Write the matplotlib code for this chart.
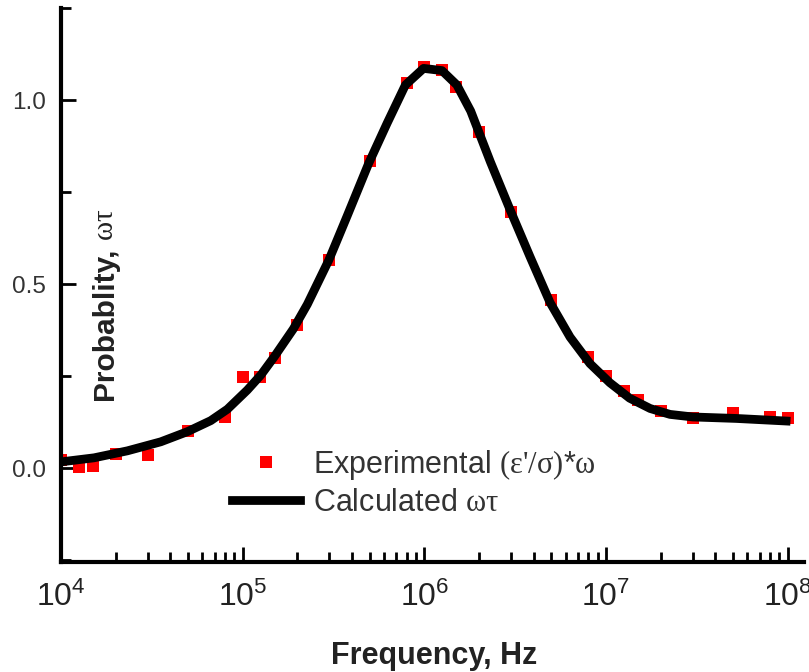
import matplotlib
matplotlib.use("Agg")
import matplotlib.pyplot as plt
from matplotlib.lines import Line2D
from matplotlib.ticker import LogLocator, MultipleLocator, NullFormatter

plt.rcParams['font.family'] = ['Liberation Sans', 'DejaVu Sans']
plt.rcParams['mathtext.fontset'] = 'custom'
plt.rcParams['mathtext.rm'] = 'Liberation Serif'
plt.rcParams['mathtext.it'] = 'Liberation Serif:italic'
plt.rcParams['mathtext.sf'] = 'Liberation Sans'

# Experimental points
exp_freq = [1e4, 1.25e4, 1.5e4, 2e4, 3e4, 5e4, 8e4, 1e5, 1.25e5, 1.5e5, 2e5, 3e5, 5e5,
            8e5, 1e6, 1.25e6, 1.5e6, 2e6, 3e6, 5e6, 8e6, 1e7, 1.25e7, 1.5e7, 2e7, 3e7,
            5e7, 8e7, 1e8]
exp_val = [0.022, 0.004, 0.006, 0.038, 0.037, 0.10, 0.138, 0.248, 0.248, 0.298, 0.39, 0.565,
           0.835, 1.045, 1.09, 1.082, 1.036, 0.912, 0.697, 0.457, 0.302, 0.25, 0.21, 0.185,
           0.156, 0.137, 0.15, 0.139, 0.137]

# Calculated curve
calc_freq = [1.0e4, 1.52e4, 2.32e4, 3.54e4, 4.96e4, 6.67e4, 8.24e4, 1.06e5, 1.26e5, 1.49e5,
             1.9e5, 2.27e5, 2.98e5, 3.76e5, 4.94e5, 6.24e5, 7.87e5, 9.9e5, 1.25e6, 1.51e6,
             1.8e6, 2.31e6, 2.97e6, 3.82e6, 4.92e6, 6.34e6, 8.16e6, 1.05e7, 1.35e7, 1.75e7,
             2.25e7, 3.0e7, 5.2e7, 9.8e7]
calc_val = [0.017, 0.028, 0.047, 0.0715, 0.099, 0.129, 0.160, 0.212, 0.253, 0.302,
            0.378, 0.445, 0.565, 0.685, 0.828, 0.937, 1.041, 1.086, 1.080, 1.041,
            0.97, 0.832, 0.701, 0.574, 0.450, 0.356, 0.284, 0.232, 0.190, 0.162,
            0.146, 0.139, 0.135, 0.128]

x_ticks = [1e4, 1e5, 1e6, 1e7, 1e8]
x_ticklabels = [r'$\mathsf{10^{4}}$', r'$\mathsf{10^{5}}$', r'$\mathsf{10^{6}}$',
                r'$\mathsf{10^{7}}$', r'$\mathsf{10^{8}}$']
y_ticks = [0.0, 0.5, 1.0]
y_ticklabels = ['0.0', '0.5', '1.0']

fig = plt.figure(figsize=(8.09, 6.72), dpi=100)
ax = fig.add_axes([61/809, 1-562/672, (804-61)/809, (562-8)/672])

ax.plot(calc_freq, calc_val, color='black', lw=6.3, solid_joinstyle='round', zorder=3)
ax.plot(exp_freq, exp_val, 's', color='#ff0000', ms=9, mew=0, zorder=2)

ax.set_xscale('log')
ax.set_xlim(1e4, 1.23e8)
ax.set_ylim(-0.255, 1.25)

for s in ['top', 'right']:
    ax.spines[s].set_visible(False)
for s in ['left', 'bottom']:
    ax.spines[s].set_linewidth(3)

ax.set_xticks(x_ticks)
ax.set_xticklabels(x_ticklabels, fontsize=23, color='#222222')
ax.xaxis.set_minor_locator(LogLocator(base=10, subs=range(2, 10)))
ax.xaxis.set_minor_formatter(NullFormatter())
ax.set_yticks(y_ticks)
ax.set_yticklabels(y_ticklabels, fontsize=17.5, color='#333333')
ax.yaxis.set_minor_locator(MultipleLocator(0.25))

ax.tick_params(axis='both', which='major', direction='in', width=2, length=11)
ax.tick_params(axis='both', which='minor', direction='in', width=2, length=7)
ax.tick_params(axis='x', which='major', pad=14)
ax.tick_params(axis='y', which='major', pad=11)

ax.set_xlabel('Frequency, Hz', fontsize=22, fontweight='bold', color='#222222')
ax.xaxis.set_label_coords((434-61)/(804-61), (562-641)/(562-8))

# y label: bold sans word plus regular serif Greek symbols (pixel positions)
fig.text(113/809, 1 - 400/672, 'Probablity,', rotation=90, rotation_mode='anchor',
         ha='left', va='baseline', fontsize=21.5, fontweight='bold', color='#222222')
fig.text(113/809, 1 - 241/672, r'$\mathrm{ωτ}$', rotation=90, rotation_mode='anchor',
         ha='left', va='baseline', fontsize=21, color='#222222')

h_exp = Line2D([], [], marker='s', ls='none', color='#ff0000', ms=9, mew=0)
h_calc = Line2D([], [], color='black', lw=6.3)
leg = ax.legend([h_exp, h_calc],
                [r"Experimental $\mathrm{(ε}\text{'}\mathrm{/σ)}$*$\mathrm{ω}$",
                 r'Calculated $\mathrm{ωτ}$'],
                loc='center left', bbox_to_anchor=(232/809, 1-483/672),
                bbox_transform=fig.transFigure, frameon=False, fontsize=22,
                handlelength=2.23, handletextpad=0.43, labelspacing=0.2,
                borderpad=0, borderaxespad=0)
for t in leg.get_texts():
    t.set_color('#333333')

fig.savefig('out.png', dpi=100)
